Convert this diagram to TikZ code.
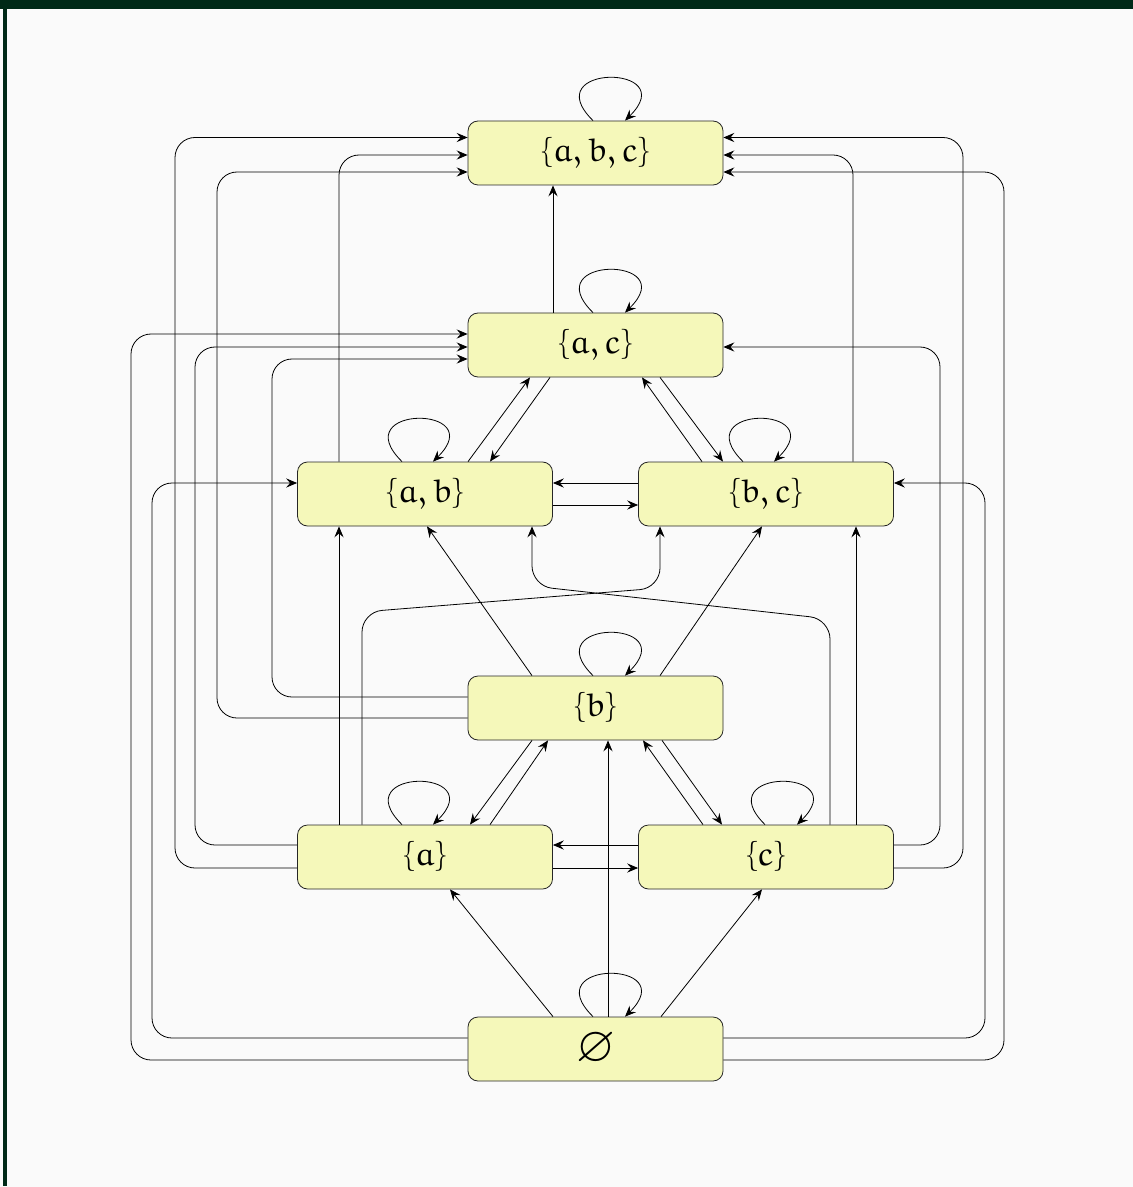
\documentclass[tikz,border=0pt]{standalone}
\usepackage{amssymb}
\usepackage{euler}
\usetikzlibrary{arrows.meta,calc}
\definecolor{framegreen}{RGB}{0,41,23}
\definecolor{paper}{RGB}{250,250,250}
\definecolor{setfill}{RGB}{245,248,186}
\tikzset{
  set_/.style  = {shape=rectangle, draw=black!85, fill=setfill, rounded corners=5pt,
                  minimum width=127.5pt, minimum height=32pt, inner sep=0pt,
                  font=\fontsize{16.5}{19}\selectfont},
  edge_/.style = {draw, -{Stealth[length=5.5pt,width=4.6pt,inset=2pt]}, rounded corners=10pt},
  loop_/.style = {draw, -{Stealth[length=5.5pt,width=4.6pt,inset=2pt]}}
}

\begin{document}
\begin{tikzpicture}[x=0.5pt, y=-0.5pt]
	% frame
	\fill[paper] (0,0) rectangle (1133,1187);
	\useasboundingbox (0,0) rectangle (1133,1187);
	\fill[framegreen] (0,0) rectangle (1133,9);
	\fill[framegreen] (3,0) rectangle (7,1186);

	% states
	\node [set_] (abc) at (595.5,153)  {$\{a,b,c\}$};
	\node [set_] (ac)  at (595.5,345)  {$\{a,c\}$};
	\node [set_] (ab)  at (425,494)    {$\{a,b\}$};
	\node [set_] (bc)  at (766,494)    {$\{b,c\}$};
	\node [set_] (b)   at (595.5,708)  {$\{b\}$};
	\node [set_] (a)   at (425,857)    {$\{a\}$};
	\node [set_] (c)   at (766,857)    {$\{c\}$};
	\node [set_, font=\fontsize{25}{27}\selectfont] (emp) at (595.5,1049) {$\varnothing$};

	% self loops
	\draw[loop_] ($(abc.north)+(-2.5,0)$) .. controls +(-58,-57) and +(58,-57) .. ($(abc.north)+(29.5,0)$);
	\draw[loop_] ($(ac.north)+(-2.5,0)$) .. controls +(-58,-57) and +(58,-57) .. ($(ac.north)+(29.5,0)$);
	\draw[loop_] ($(ab.north)+(-23,0)$) .. controls +(-58,-57) and +(58,-57) .. ($(ab.north)+(8,0)$);
	\draw[loop_] ($(bc.north)+(-23,0)$) .. controls +(-58,-57) and +(58,-57) .. ($(bc.north)+(8,0)$);
	\draw[loop_] ($(b.north)+(-2.5,0)$) .. controls +(-58,-57) and +(58,-57) .. ($(b.north)+(29.5,0)$);
	\draw[loop_] ($(a.north)+(-23,0)$) .. controls +(-58,-57) and +(58,-57) .. ($(a.north)+(8,0)$);
	\draw[loop_] ($(c.north)+(-1,0)$) .. controls +(-58,-57) and +(58,-57) .. ($(c.north)+(31,0)$);
	\draw[loop_] ($(emp.north)+(-2.5,0)$) .. controls +(-58,-57) and +(58,-57) .. ($(emp.north)+(29.5,0)$);

	% into {a,b,c}
	\draw[edge_] ($(ac.north)+(-42.5,0)$) -- ($(abc.south)+(-42.5,0)$);
	\draw[edge_] ($(a.west)+(0,11)$) -- (175,868) |- ($(abc.west)+(0,-15.5)$);
	\draw[edge_] ($(ab.north)+(-86,0)$) |- ($(abc.west)+(0,2)$);
	\draw[edge_] ($(b.west)+(0,10)$) -- (217,718) |- ($(abc.west)+(0,19)$);
	\draw[edge_] ($(c.east)+(0,11)$) -- (963,868) |- ($(abc.east)+(0,-15.5)$);
	\draw[edge_] ($(bc.north)+(87,0)$) |- ($(abc.east)+(0,2)$);
	\draw[edge_] ($(emp.east)+(0,11)$) -- (1004,1060) |- ($(abc.east)+(0,19)$);

	% into {a,c}
	\draw[edge_] ($(emp.west)+(0,11)$) -- (131,1060) |- ($(ac.west)+(0,-11)$);
	\draw[edge_] ($(a.west)+(0,-12)$) -- (195,845) |- ($(ac.west)+(0,2)$);
	\draw[edge_] ($(b.west)+(0,-11)$) -- (272,697) |- ($(ac.west)+(0,14)$);
	\draw[edge_] ($(c.east)+(0,-12)$) -- (940,845) |- ($(ac.east)+(0,2)$);
	\draw[edge_] ($(ab.north)+(43,0)$) -- ($(ac.south)+(-65.5,0)$);
	\draw[edge_] ($(bc.north)+(-64,0)$) -- ($(ac.south)+(46.5,0)$);

	% out of {a,c}
	\draw[edge_] ($(ac.south)+(-45.5,0)$) -- ($(ab.north)+(65,0)$);
	\draw[edge_] ($(ac.south)+(64.5,0)$) -- ($(bc.north)+(-43,0)$);

	% {a,b} and {b,c}
	\draw[edge_] ($(bc.west)+(0,-11)$) -- ($(ab.east)+(0,-11)$);
	\draw[edge_] ($(ab.east)+(0,11)$) -- ($(bc.west)+(0,11)$);

	% up into {a,b}, {b,c}
	\draw[edge_] ($(a.north)+(-86,0)$) -- ($(ab.south)+(-86,0)$);
	\draw[edge_] ($(c.north)+(90,0)$) -- ($(bc.south)+(90,0)$);
	\draw[edge_] ($(b.north)+(-63.5,0)$) -- ($(ab.south)+(2,0)$);
	\draw[edge_] ($(b.north)+(64.5,0)$) -- ($(bc.south)+(-4,0)$);
	\draw[edge_] ($(a.north)+(-63,0)$) -- (362,612) -- (660,588) -- ($(bc.south)+(-106,0)$);
	\draw[edge_] ($(c.north)+(64,0)$) -- (830,619) -- (532,586) -- ($(ab.south)+(107,0)$);
	\draw[edge_] ($(emp.west)+(0,-11)$) -- (152,1038) |- ($(ab.west)+(0,-11)$);
	\draw[edge_] ($(emp.east)+(0,-11)$) -- (985,1038) |- ($(bc.east)+(0,-11)$);

	% {b} with {a} and {c}
	\draw[edge_] ($(b.south)+(-63.5,0)$) -- ($(a.north)+(45,0)$);
	\draw[edge_] ($(a.north)+(65,0)$) -- ($(b.south)+(-47.5,0)$);
	\draw[edge_] ($(b.south)+(66.5,0)$) -- ($(c.north)+(-44,0)$);
	\draw[edge_] ($(c.north)+(-63,0)$) -- ($(b.south)+(47.5,0)$);

	% {a} and {c}
	\draw[edge_] ($(c.west)+(0,-12)$) -- ($(a.east)+(0,-12)$);
	\draw[edge_] ($(a.east)+(0,11)$) -- ($(c.west)+(0,11)$);

	% out of the empty set
	\draw[edge_] ($(emp.north)+(-42.5,0)$) -- ($(a.south)+(25,0)$);
	\draw[edge_] ($(emp.north)+(12.5,0)$) -- ($(b.south)+(12.5,0)$);
	\draw[edge_] ($(emp.north)+(65.5,0)$) -- ($(c.south)+(-4,0)$);
\end{tikzpicture}
\end{document}
